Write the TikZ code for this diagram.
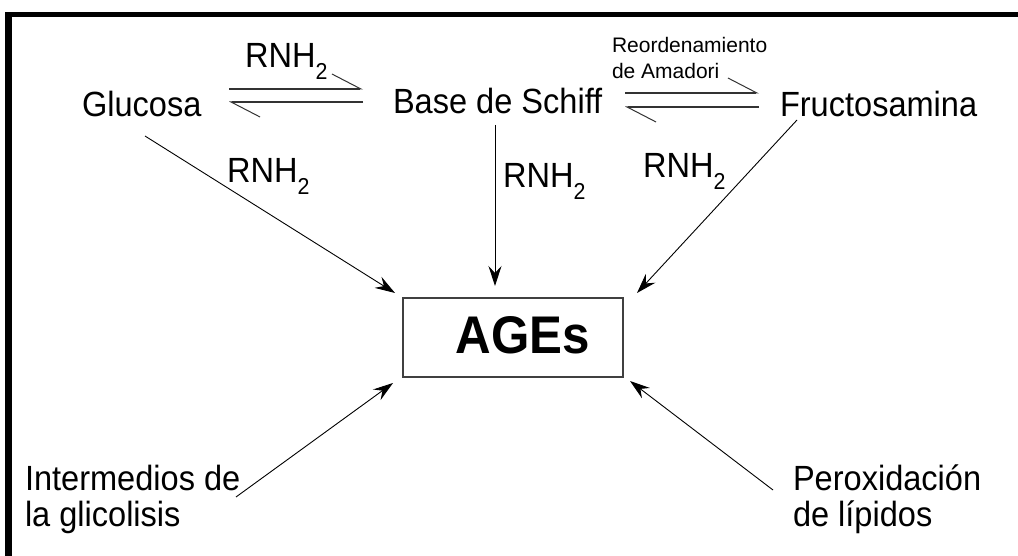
\documentclass[tikz,border=0pt]{standalone}
\usepackage{fontspec}
\setmainfont{Liberation Sans}
\newfontfamily\narrowsans[FakeStretch=0.93]{Liberation Sans}
\usetikzlibrary{arrows.meta}

% amine label with a lowered, large subscript
\newcommand{\rnhtwo}{RNH\raisebox{-12pt}{\fontsize{23}{23}\selectfont 2}}

\begin{document}
\begin{tikzpicture}[x=1pt,y=-1pt,
  lbl/.style={inner sep=0pt,outer sep=0pt,anchor=base west,font=\narrowsans\fontsize{35}{38}\selectfont},
  small/.style={inner sep=0pt,outer sep=0pt,anchor=base west,font=\fontsize{21}{24}\selectfont},
  feed/.style={line width=0.9pt,-{Stealth[length=20pt,width=13pt,inset=7pt]}},
  eqline/.style={line width=1.1pt,draw=black!80,-{Straight Barb[harpoon,length=29pt,width=30pt,line width=1pt]}},
  agesbox/.style={draw=black!75,line width=1.3pt,minimum width=220pt,minimum height=79pt,inner sep=0pt}
]
\useasboundingbox (0,0) rectangle (1018,556);

% frame along the top and left edges
\fill (5,12) rectangle (1018,17);
\fill (5,12) rectangle (12,556);

% species
\node[lbl] (glucosa) at (82,117) {Glucosa};
\node[lbl] (schiff) at (393,114) {Base de Schiff};
\node[lbl] (fructo) at (780,117) {Fructosamina};
\node[lbl] (glico) at (25,490) {Intermedios de};
\node[lbl] (glico2) at (25,526) {la glicolisis};
\node[lbl] (perox) at (793,490) {Peroxidación};
\node[lbl] (perox2) at (793,526) {de lípidos};

% central product
\node[agesbox] (ages) at (513,337.5) {};
\node[inner sep=0pt,anchor=base,font=\narrowsans\fontsize{53}{53}\selectfont\bfseries] (agestxt) at (523,353) {AGEs};

% reaction labels
\node[lbl] (r1) at (245,68) {\rnhtwo};
\node[lbl] (r2) at (227,183) {\rnhtwo};
\node[lbl] (r3) at (503,188) {\rnhtwo};
\node[lbl] (r4) at (643,178) {\rnhtwo};
\node[small] (amadori1) at (612,53) {Reordenamiento};
\node[small] (amadori2) at (612,79) {de Amadori};

% connector end points
\coordinate (eqA1) at (229,89);  \coordinate (eqA2) at (363,89);
\coordinate (eqA3) at (363,102); \coordinate (eqA4) at (229,102);
\coordinate (eqB1) at (625,93);  \coordinate (eqB2) at (759,93);
\coordinate (eqB3) at (759,107); \coordinate (eqB4) at (625,107);

\coordinate (gOut) at (145,136);  \coordinate (gIn) at (395,293);
\coordinate (sOut) at (495,125);  \coordinate (sIn) at (495,286);
\coordinate (fOut) at (797,120);  \coordinate (fIn) at (637,293);
\coordinate (iOut) at (236,497);  \coordinate (iIn) at (393,383);
\coordinate (pOut) at (773,490);  \coordinate (pIn) at (630,381);

% equilibria
\draw[eqline] (eqA1) -- (eqA2);
\draw[eqline] (eqA3) -- (eqA4);
\draw[eqline] (eqB1) -- (eqB2);
\draw[eqline] (eqB3) -- (eqB4);

% routes into AGEs
\draw[feed] (gOut) -- (gIn);
\draw[feed] (sOut) -- (sIn);
\draw[feed] (fOut) -- (fIn);
\draw[feed] (iOut) -- (iIn);
\draw[feed] (pOut) -- (pIn);
\end{tikzpicture}
\end{document}
